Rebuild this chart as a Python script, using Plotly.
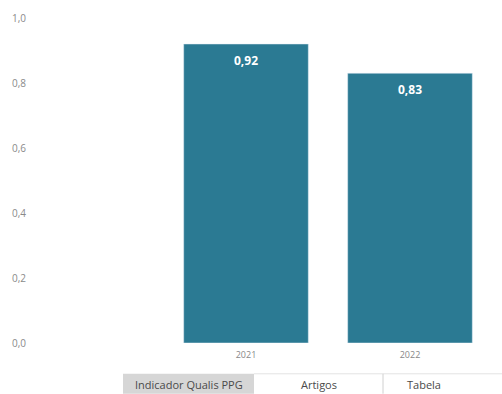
import plotly.graph_objects as go

years = ["2021", "2022"]
values = [0.92, 0.83]
y_ticks = [0.0, 0.2, 0.4, 0.6, 0.8, 1.0]
tabs = ["Indicador Qualis PPG", "Artigos", "Tabela"]

W, H = 502, 394
L, R, T, B = 30, 10, 16, 51
pw = W - L - R
ph = H - T - B

def px(x):
    return (x - L) / pw

def py(y):
    return (H - B - y) / ph

bar_color = "#2B7A93"
font = "Open Sans"

fig = go.Figure(go.Bar(x=list(range(len(years))), y=values, marker_color=bar_color,
                       width=0.76, hoverinfo="skip"))

for i, v in enumerate(values):
    fig.add_annotation(x=i, y=v, text="<b>" + f"{v:.2f}".replace(".", ",") + "</b>",
                       showarrow=False, yanchor="top", yshift=-6,
                       font=dict(family=font, size=12, color="white"))

fig.update_layout(
    width=W, height=H, margin=dict(l=L, r=R, t=T, b=B),
    plot_bgcolor="white", paper_bgcolor="white",
    separators=",.", showlegend=False,
    xaxis=dict(range=[-0.5 - (164 - L) / 164, 1.5], tickvals=list(range(len(years))),
               ticktext=years, showgrid=False, zeroline=False, showline=False,
               ticklabelstandoff=5,
               tickfont=dict(family=font, size=9, color="#888888"), ticks="", fixedrange=True),
    yaxis=dict(range=[0, 1], tickvals=y_ticks, tickformat=".1f", showgrid=False,
               zeroline=False, showline=False, ticks="", ticklabelstandoff=3,
               tickfont=dict(family=font, size=10, color="#8A8A8A"), fixedrange=True),
)

# tab strip
tab_edges = [123, 254, 383, 502]
shapes = []
shapes.append(dict(type="rect", xref="paper", yref="paper", x0=px(tab_edges[0]), x1=px(tab_edges[1]),
                   y0=py(394), y1=py(374), fillcolor="#D6D6D6", line=dict(width=0), layer="below"))
shapes.append(dict(type="line", xref="paper", yref="paper", x0=px(tab_edges[1]), x1=px(502),
                   y0=py(374), y1=py(374), line=dict(color="#E3E3E3", width=1)))
shapes.append(dict(type="line", xref="paper", yref="paper", x0=px(tab_edges[2]), x1=px(tab_edges[2]),
                   y0=py(394), y1=py(374), line=dict(color="#D0D0D0", width=1)))
fig.update_layout(shapes=shapes)
for i, t in enumerate(tabs):
    fig.add_annotation(xref="paper", yref="paper", x=px((tab_edges[i] + tab_edges[i + 1]) / 2),
                       y=py(385), yanchor="middle", text=t, showarrow=False,
                       font=dict(family=font, size=11, color="#4A4A4A"))

fig.write_html("out.html", config={"displayModeBar": False},
               post_script="document.body.style.margin='0';document.body.style.overflow='hidden';")
